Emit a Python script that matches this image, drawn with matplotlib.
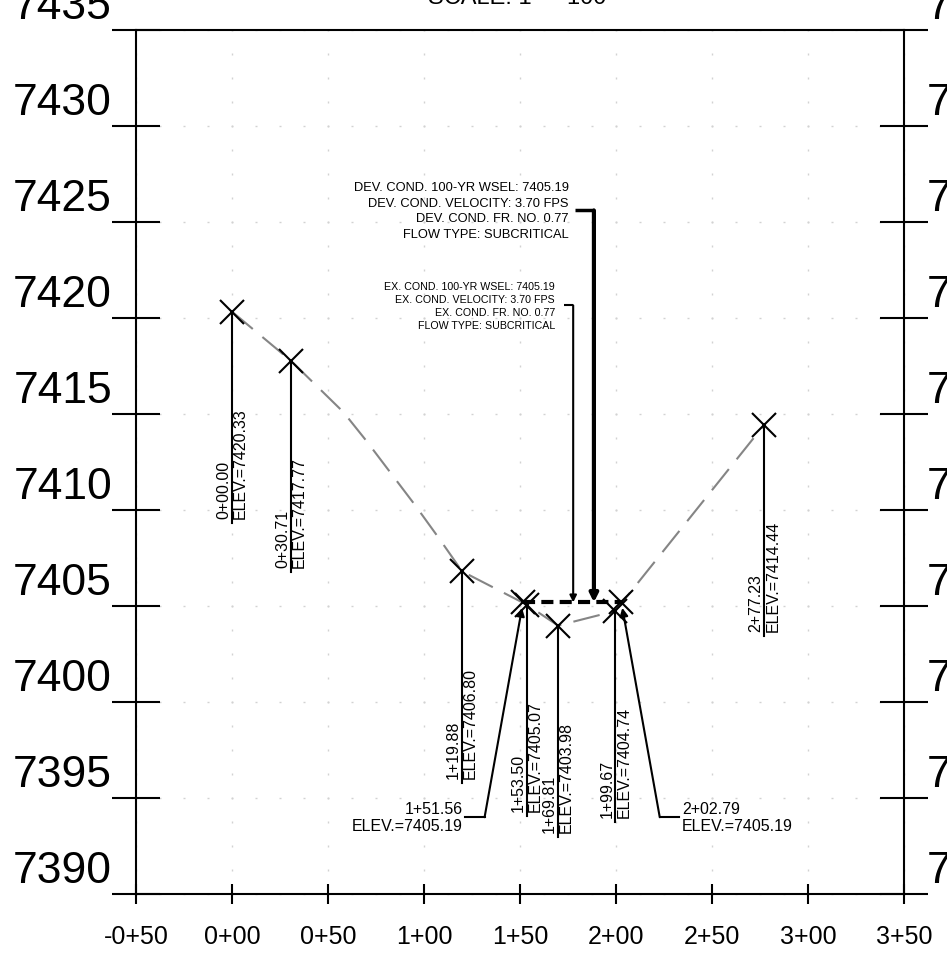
import matplotlib
matplotlib.use("Agg")
import matplotlib.pyplot as plt
from matplotlib.transforms import offset_copy
import numpy as np

plt.rcParams['font.family'] = ['Liberation Sans', 'DejaVu Sans']

# labelled ground shots: station (ft) and elevation (ft)
shot_sta = [0.00, 30.71, 119.88, 153.50, 169.81, 199.67, 277.23]
shot_elev = [7420.33, 7417.77, 7406.80, 7405.07, 7403.98, 7404.74, 7414.44]

# ground line, with the unlabelled break points on the left bank
profile_sta = [0.00, 30.71, 58.0, 70.0, 95.0, 108.0, 119.88, 153.50, 169.81, 199.67, 277.23]
profile_elev = [7420.33, 7417.77, 7415.1, 7413.6, 7410.3, 7408.5, 7406.80, 7405.07, 7403.98, 7404.74, 7414.44]

# 100-yr water surface and its edges
wsel = 7405.19
ws_sta = [151.56, 202.79]

station_ticks = list(range(-50, 351, 50))
elev_ticks = list(range(7390, 7436, 5))

dev_lines = ["DEV. COND. 100-YR WSEL: 7405.19",
             "DEV. COND. VELOCITY: 3.70 FPS",
             "DEV. COND. FR. NO. 0.77",
             "FLOW TYPE: SUBCRITICAL"]
ex_lines = ["EX. COND. 100-YR WSEL: 7405.19",
            "EX. COND. VELOCITY: 3.70 FPS",
            "EX. COND. FR. NO. 0.77",
            "FLOW TYPE: SUBCRITICAL"]

LEADER_DROP = 11.0   # ft below a shot where its label sits


def sta_label(s, dec=True):
    sign = '-' if s < 0 else ''
    s = abs(s)
    h = int(s // 100)
    r = s - h * 100
    if dec:
        return f"{sign}{h}+{r:05.2f}"
    return f"{sign}{h}+{r:02.0f}"


fig = plt.figure(figsize=(9.47, 9.54), dpi=100)
ax = fig.add_axes([136 / 947, 1 - 895 / 954, 768 / 947, 864 / 954])
ax.set_xlim(-50, 350)
ax.set_ylim(7390, 7435)

for sp in ax.spines.values():
    sp.set_linewidth(1.5)

ax.set_yticks(elev_ticks)
ax.set_xticks(station_ticks)
ax.tick_params(axis='y', direction='inout', length=35, width=1.5,
               left=True, right=True, labelleft=False, labelright=False)
ax.tick_params(axis='x', direction='inout', length=15, width=1.5,
               labelbottom=False)

# dotted grid
grid_col = '#d2d2d2'
col_y = np.arange(7390, 7435.01, 1.25)
row_x = np.arange(-50, 350.01, 12.5)
for s in station_ticks:
    ax.plot([s] * len(col_y), col_y, ls='none', marker='|', ms=2.0,
            mew=1.0, color=grid_col, zorder=0, clip_on=False)
for e in elev_ticks:
    ax.plot(row_x, [e] * len(row_x), ls='none', marker='_', ms=2.0,
            mew=1.0, color=grid_col, zorder=0, clip_on=False)

# axis labels
xlab_tr = offset_copy(ax.get_xaxis_transform(), fig=fig, x=0, y=-49, units='dots')
for s in station_ticks:
    ax.text(s, 0, sta_label(s, dec=False), transform=xlab_tr, ha='center',
            va='baseline', fontsize=18, clip_on=False)
ylab_l = offset_copy(ax.get_yaxis_transform(), fig=fig, x=-24, y=12, units='dots')
ylab_r = offset_copy(ax.get_yaxis_transform(), fig=fig, x=23, y=12, units='dots')
for e in elev_ticks:
    ax.text(0, e, str(e), transform=ylab_l, ha='right', va='baseline',
            fontsize=32, clip_on=False)
    ax.text(1, e, str(e), transform=ylab_r, ha='left', va='baseline',
            fontsize=32, clip_on=False)

fig.text((136 + 904) / 2 / 947, 1 - 4 / 954, 'SCALE: 1" = 100\'',
         ha='center', va='baseline', fontsize=17)

# ground line
ax.plot(profile_sta, profile_elev, color='#858585', lw=1.5, dashes=(13, 6),
        zorder=2)

# shots with vertical leaders and rotated labels
ax.plot(shot_sta, shot_elev, ls='none', marker='x', ms=17, mew=1.5,
        color='black', zorder=4)
txt_sta = offset_copy(ax.transData, fig=fig, x=-1, y=5, units='dots')
txt_elv = offset_copy(ax.transData, fig=fig, x=1, y=5, units='dots')
for s, e in zip(shot_sta, shot_elev):
    ax.plot([s, s], [e, e - LEADER_DROP], color='black', lw=1.5, zorder=3)
    ax.text(s, e - LEADER_DROP, sta_label(s), transform=txt_sta, rotation=90,
            rotation_mode='anchor', ha='left', va='bottom', fontsize=11.5)
    ax.text(s, e - LEADER_DROP, f"ELEV.={e:.2f}", transform=txt_elv,
            rotation=90, rotation_mode='anchor', ha='left', va='top',
            fontsize=11.5)

# water surface
ax.plot(ws_sta, [wsel, wsel], color='black', lw=3, dashes=(2.9, 1.5),
        solid_capstyle='butt', zorder=5)
ax.plot(ws_sta, [wsel, wsel], ls='none', marker='x', ms=17, mew=1.5,
        color='black', zorder=4)

# edge of water callouts
edge_elev = 7394.0
for s, side in zip(ws_sta, [-1, 1]):
    bend = s + side * 20
    end = bend + side * 10
    ax.plot([end, bend], [edge_elev, edge_elev], color='black', lw=1.5)
    ax.annotate('', xy=(s, wsel), xytext=(bend, edge_elev),
                arrowprops=dict(arrowstyle='-|>', color='black', lw=1.5,
                                mutation_scale=12, shrinkA=0, shrinkB=4))
    tr = offset_copy(ax.transData, fig=fig, x=side * 3, y=0, units='dots')
    ax.text(end, edge_elev, f"{sta_label(s)}\nELEV.={wsel:.2f}", transform=tr,
            ha='left' if side > 0 else 'right', va='center',
            multialignment='left' if side > 0 else 'right', fontsize=11.5,
            linespacing=1.2)

# developed condition callout
dev_y, dev_x = 7425.6, 188.5
ax.text(175.5, dev_y, "\n".join(dev_lines), ha='right', va='center',
        fontsize=9.3, linespacing=1.43)
ax.plot([178.5, dev_x], [dev_y, dev_y], color='black', lw=2.5,
        solid_capstyle='butt')
ax.annotate('', xy=(dev_x, wsel), xytext=(dev_x, dev_y),
            arrowprops=dict(arrowstyle='-|>', color='black', lw=3,
                            mutation_scale=12, shrinkA=0, shrinkB=0))

# existing condition callout
ex_y, ex_x = 7420.66, 177.7
ax.text(168.2, ex_y, "\n".join(ex_lines), ha='right', va='center',
        fontsize=7.7, linespacing=1.4)
ax.plot([172.9, ex_x], [ex_y, ex_y], color='black', lw=1.5,
        solid_capstyle='butt')
ax.annotate('', xy=(ex_x, wsel), xytext=(ex_x, ex_y),
            arrowprops=dict(arrowstyle='-|>', color='black', lw=1.5,
                            mutation_scale=10, shrinkA=0, shrinkB=0))

fig.savefig('out.png', dpi=100)
